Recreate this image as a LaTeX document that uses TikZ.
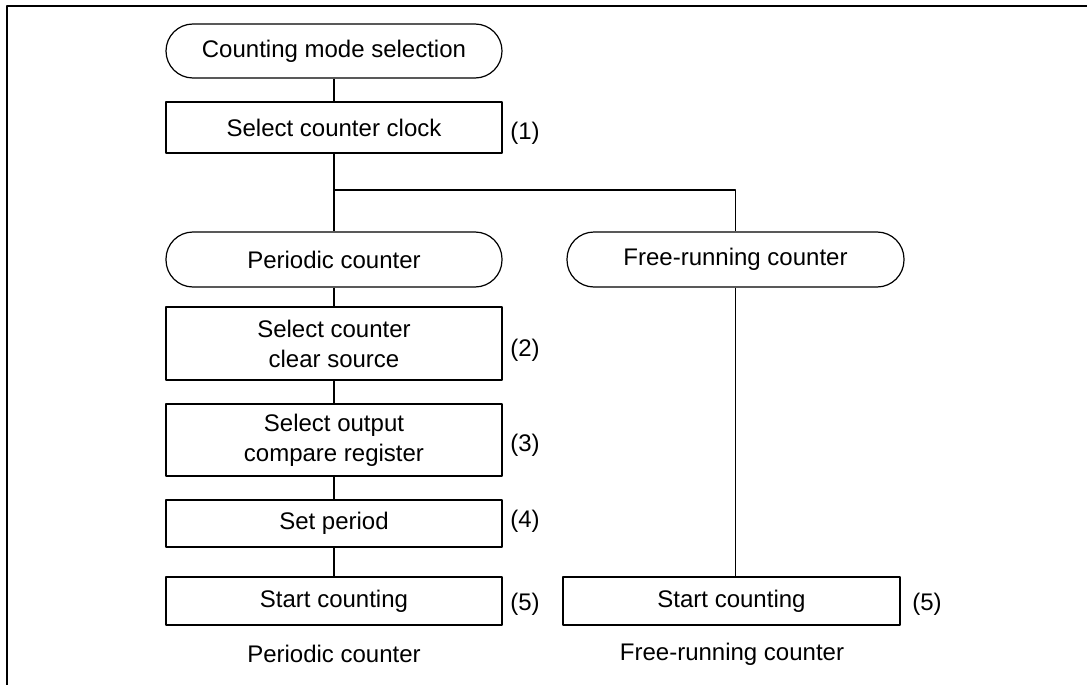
\documentclass[tikz,border=0pt]{standalone}
\usepackage{fontspec}
\setmainfont{Liberation Sans}
\usepackage{tikz}
\usetikzlibrary{calc}

\tikzset{
	stepbox/.style={draw, line width=1.2pt, rectangle, minimum width=336pt, inner sep=0pt, align=center},
	termbox/.style={stepbox, rounded corners=27pt},
	numlbl/.style={inner sep=0pt},
	link/.style={line width=1.2pt}
}

\begin{document}
\begin{tikzpicture}[x=1pt, y=-1pt, line join=round, font=\fontsize{24}{30}\selectfont]
	\useasboundingbox (0,0) rectangle (1087,685);
	% Rahmen (nur oben und links)
	\draw[line width=1.6pt] (7,685) -- (7,6) -- (1087,6);
	% Gemeinsamer Teil
	\node[termbox, minimum height=54pt] (mode) at (334,51) {Counting mode selection};
	\node[stepbox, minimum height=51pt] (clock) at (334,127.5) {Select counter clock};
	\coordinate (split) at (334,190);
	% Periodischer Zaehler
	\node[termbox, minimum height=55pt] (periodic) at (334,259.5) {Periodic counter};
	\node[stepbox, minimum height=73pt] (clear) at (334,343.5) {Select counter\\clear source};
	\node[stepbox, minimum height=72pt] (compare) at (334,440) {Select output\\compare register};
	\node[stepbox, minimum height=47pt] (period) at (334,523.5) {Set period};
	\node[stepbox, minimum height=48pt] (startp) at (334,601) {Start counting};
	% Freilaufender Zaehler
	\node[termbox, minimum width=337pt, minimum height=55pt] (free) at (735.5,259.5) {Free-running counter};
	\node[stepbox, minimum width=337pt, minimum height=48pt] (startf) at (731.5,601) {Start counting};
	% Schrittnummern
	\node[numlbl] (n1) at (525,133) {(1)};
	\node[numlbl] (n2) at (525,350) {(2)};
	\node[numlbl] (n3) at (525,445) {(3)};
	\node[numlbl] (n4) at (525,521) {(4)};
	\node[numlbl] (n5p) at (525,604) {(5)};
	\node[numlbl] (n5f) at (927,604) {(5)};
	% Unterschriften
	\node (capp) at (334,654) {Periodic counter};
	\node (capf) at (732,654) {Free-running counter};
	% Verbindungen
	\draw[link] (mode) -- (clock);
	\draw[link] (clock) -- (periodic);
	\draw[link] (split) -| (free.north);
	\draw[link] (periodic) -- (clear);
	\draw[link] (clear) -- (compare);
	\draw[link] (compare) -- (period);
	\draw[link] (period) -- (startp);
	\draw[link] (free.south) -- (free.south |- startf.north);
\end{tikzpicture}
\end{document}
